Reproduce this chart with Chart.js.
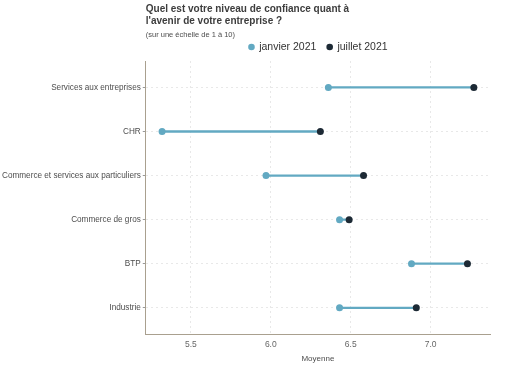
<!DOCTYPE html>
<html>
<head>
<meta charset="utf-8">
<script src="https://cdn.jsdelivr.net/npm/chart.js@4/dist/chart.umd.min.js"></script>
<style>
  body { margin: 0; background: #fff; }
  #wrap { width: 505px; height: 367px; }
</style>
</head>
<body>
<div id="wrap"><canvas id="dumbbell"></canvas></div>
<script>
var categories = ['Services aux entreprises', 'CHR', 'Commerce et services aux particuliers', 'Commerce de gros', 'BTP', 'Industrie'];
var janvier = [6.36, 5.32, 5.97, 6.43, 6.88, 6.43];
var juillet = [7.27, 6.31, 6.58, 6.49, 7.23, 6.91];
var seriesLabels = ['janvier 2021', 'juillet 2021'];
var xTicks = [5.5, 6.0, 6.5, 7.0];
var titleLines = ['Quel est votre niveau de confiance quant à', "l'avenir de votre entreprise ?"];
var subtitle = '(sur une échelle de 1 à 10)';

var colJan = '#62a9c2';
var colJul = '#1d2a35';
var fontFam = '"Liberation Sans", Arial, sans-serif';

// titre, sous-titre et légende alignés sur la zone du graphique (comme ggplot)
var headerPlugin = {
    id: 'header',
    afterDraw: function (chart) {
        var ctx = chart.ctx;
        var area = chart.chartArea;
        ctx.save();
        ctx.textBaseline = 'middle';
        ctx.textAlign = 'left';
        ctx.fillStyle = '#3d3d3d';
        ctx.font = 'bold 10px ' + fontFam;
        ctx.fillText(titleLines[0], area.left, 9);
        ctx.fillText(titleLines[1], area.left, 21);
        ctx.fillStyle = '#4d4d4d';
        ctx.font = '7.5px ' + fontFam;
        ctx.fillText(subtitle, area.left, 35);

        ctx.font = '10.5px ' + fontFam;
        var w1 = ctx.measureText(seriesLabels[0]).width;
        var w2 = ctx.measureText(seriesLabels[1]).width;
        var total = 11 + w1 + 10 + 11 + w2;
        var x = (area.left + area.right) / 2 - total / 2;
        var y = 47;
        var cols = [colJan, colJul];
        var widths = [w1, w2];
        for (var i = 0; i < 2; i++) {
            ctx.fillStyle = cols[i];
            ctx.beginPath();
            ctx.arc(x + 3.3, y, 3.3, 0, Math.PI * 2);
            ctx.fill();
            ctx.fillStyle = '#333';
            ctx.fillText(seriesLabels[i], x + 11, y);
            x += 11 + widths[i] + 10;
        }
        ctx.restore();
    }
};

var ctx = document.getElementById('dumbbell').getContext('2d');
var chart = new Chart(ctx, {
    type: 'scatter',
    data: {
        datasets: [{
            type: 'bar',
            label: 'écart',
            indexAxis: 'y',
            data: categories.map(function (c, i) { return { y: i, x: [janvier[i], juillet[i]] }; }),
            backgroundColor: colJan,
            barThickness: 1.6,
            order: 3
        }, {
            label: seriesLabels[0],
            data: categories.map(function (c, i) { return { x: janvier[i], y: i }; }),
            backgroundColor: colJan,
            borderColor: colJan,
            pointRadius: 3.5,
            borderWidth: 0,
            order: 2
        }, {
            label: seriesLabels[1],
            data: categories.map(function (c, i) { return { x: juillet[i], y: i }; }),
            backgroundColor: colJul,
            borderColor: colJul,
            pointRadius: 3.5,
            borderWidth: 0,
            order: 1
        }]
    },
    options: {
        responsive: true,
        maintainAspectRatio: false,
        animation: false,
        layout: { padding: { top: 61, right: 15, bottom: 3, left: 0 } },
        plugins: {
            legend: { display: false },
            tooltip: { enabled: false }
        },
        scales: {
            x: {
                type: 'linear',
                min: 5.218,
                max: 7.371,
                beginAtZero: false,
                afterBuildTicks: function (scale) {
                    scale.ticks = xTicks.map(function (v) { return { value: v }; });
                },
                ticks: {
                    color: '#666',
                    font: { family: fontFam, size: 8.5 },
                    padding: 5,
                    callback: function (v) { return v.toFixed(1); }
                },
                grid: { color: '#e8e8e8', drawTicks: false },
                border: { color: '#a9a08f', width: 1, dash: [2, 3] },
                title: {
                    display: true,
                    text: 'Moyenne',
                    color: '#4d4d4d',
                    font: { family: fontFam, size: 8 },
                    padding: { top: 0, bottom: 0 }
                }
            },
            y: {
                type: 'linear',
                reverse: true,
                offset: false,
                min: -0.6,
                max: 5.6,
                afterBuildTicks: function (scale) {
                    scale.ticks = categories.map(function (c, i) { return { value: i }; });
                },
                ticks: {
                    color: '#4d4d4d',
                    font: { family: fontFam, size: 8.2 },
                    padding: 2,
                    autoSkip: false,
                    callback: function (v) { return categories[v]; }
                },
                grid: { color: '#e8e8e8', offset: false, tickLength: 3, tickColor: '#999' },
                border: { color: '#a9a08f', width: 1, dash: [2, 3] }
            }
        }
    },
    plugins: [headerPlugin]
});
</script>
</body>
</html>
